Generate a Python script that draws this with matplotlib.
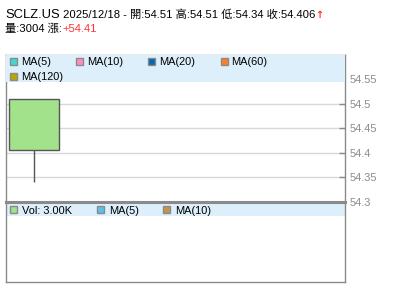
import matplotlib
matplotlib.use("Agg")
import matplotlib.pyplot as plt
from matplotlib.patches import Rectangle

plt.rcParams["font.family"] = ["Liberation Sans", "Noto Sans CJK TC", "DejaVu Sans"]

# ---- data ----
SYMBOL = "SCLZ.US"
DATES = ["2025/12/18"]
OPEN = [54.51]
HIGH = [54.51]
LOW = [54.34]
CLOSE = [54.406]
VOLUME = [3004]
CHANGE = [54.41]

PRICE_MA_LABELS = ["MA(5)", "MA(10)", "MA(20)", "MA(60)", "MA(120)"]
PRICE_MA_COLORS = ["#44d6d0", "#ff8cc0", "#0068b4", "#ff8024", "#b8a800"]
VOL_LABELS = ["Vol: 3.00K", "MA(5)", "MA(10)"]
VOL_COLORS = ["#a2e28a", "#55c2f0", "#c8944a"]
YTICKS = [54.3, 54.35, 54.4, 54.45, 54.5, 54.55]

W, H = 400, 301
BORDER = "#8a8a8a"
BAND = "#ddeffa"
UP = "#a2e28a"
FS = 7.9


def fx(x):
    return x / W


def fy(y):
    return 1 - y / H


fig = plt.figure(figsize=(W / 100, H / 100), dpi=100)
fig.patch.set_facecolor("white")
renderer = fig.canvas.get_renderer()


def chain(x, y, pieces):
    # place text pieces one after another, left to right (pixel coords)
    for txt, gap, kw in pieces:
        t = fig.text(fx(x + gap), fy(y), txt, va="baseline", ha="left", **kw)
        x = t.get_window_extent(renderer).x1
    return x


# ---- header text ----
chain(5, 18, [
    (SYMBOL, 0, dict(fontsize=9.4)),
    (f"{DATES[0]} - 開:{OPEN[0]} 高:{HIGH[0]} 低:{LOW[0]} 收:{CLOSE[0]}", 3,
     dict(fontsize=8.1)),
    ("↑", 0, dict(fontsize=7, fontweight="bold", color="#ff2a2a", family="DejaVu Sans")),
])
chain(5, 31.5, [
    (f"量:{VOLUME[0]} 漲:", 0, dict(fontsize=8.1)),
    (f"+{CHANGE[0]}", 0, dict(fontsize=8.1, color="#ff3333")),
])

# ---- price panel ----
left, right = 5.5, 345
ax = fig.add_axes([fx(left), fy(201.7), (right - left) / W, (201.7 - 54.5) / H])
ax.set_xlim(-0.56, 6.23)
ax.set_ylim(54.3, 54.6)
ax.set_yticks(YTICKS)
ax.set_yticklabels([f"{t:g}" for t in YTICKS])
ax.yaxis.tick_right()
ax.tick_params(axis="y", direction="in", length=4, width=1, color=BORDER,
               labelcolor="#8a8a8a", labelsize=FS, pad=3)
ax.set_xticks([])
ax.grid(axis="y", color="#d8d8d8", linewidth=1, zorder=0)
for s in ax.spines.values():
    s.set_color(BORDER)
    s.set_linewidth(1)
ax.spines["bottom"].set_visible(False)

for i in range(len(OPEN)):
    lo, hi = min(OPEN[i], CLOSE[i]), max(OPEN[i], CLOSE[i])
    ax.vlines(i, LOW[i], lo, color="#555555", linewidth=1, zorder=2)
    ax.vlines(i, hi, HIGH[i], color="#555555", linewidth=1, zorder=2)
    ax.bar(i, hi - lo, bottom=lo, width=1.0, color=UP, edgecolor="#555555",
           linewidth=1, zorder=3)

# legend band on top of price panel
ax.add_patch(Rectangle((0, 1 - 27 / 147.2), 1, 27 / 147.2, transform=ax.transAxes,
                       facecolor=BAND, edgecolor="none", zorder=4))

legend_pos = [(10.3, 61.8), (76.3, 61.8), (148.3, 61.8), (220.7, 61.8), (10.3, 76.6)]
for (x, y), lab, col in zip(legend_pos, PRICE_MA_LABELS, PRICE_MA_COLORS):
    fig.patches.append(Rectangle((fx(x), fy(y + 3.5)), 7 / W, 7 / H,
                                 transform=fig.transFigure, facecolor=col,
                                 edgecolor=BORDER, linewidth=1, zorder=5))
    fig.text(fx(x + 10.5), fy(y), lab, fontsize=FS, va="center", ha="left", zorder=6)

# ---- volume panel ----
vax = fig.add_axes([fx(left), fy(282), (right - left) / W, (282 - 201.7) / H])
vax.set_xlim(-0.56, 6.23)
vax.set_ylim(0, 1)
vax.set_xticks([])
vax.set_yticks([])
for s in vax.spines.values():
    s.set_color(BORDER)
    s.set_linewidth(1)
vax.spines["top"].set_linewidth(2.2)
vax.add_patch(Rectangle((0, 1 - 14 / 80.3), 1, 13 / 80.3, transform=vax.transAxes,
                        facecolor=BAND, edgecolor="none", zorder=1))

vol_pos = [10.3, 97.3, 163.3]
for x, lab, col in zip(vol_pos, VOL_LABELS, VOL_COLORS):
    fig.patches.append(Rectangle((fx(x), fy(213.3)), 7 / W, 7 / H,
                                 transform=fig.transFigure, facecolor=col,
                                 edgecolor=BORDER, linewidth=1, zorder=5))
    fig.text(fx(x + 11.5), fy(210.5), lab, fontsize=FS, va="center", ha="left")

fig.savefig("out.png", dpi=100, facecolor="white")
